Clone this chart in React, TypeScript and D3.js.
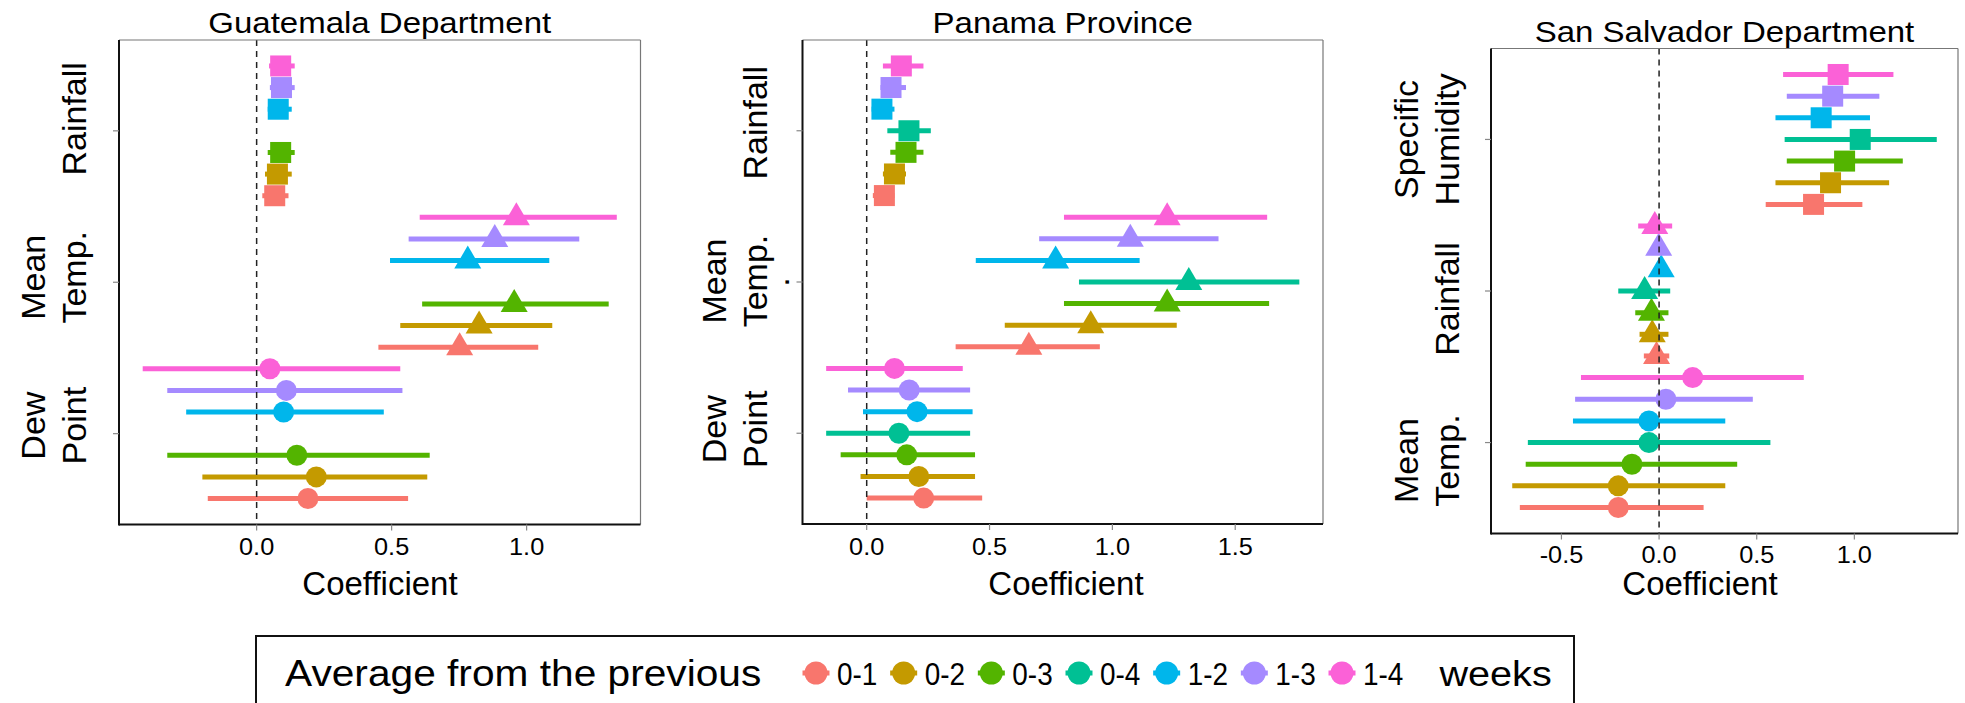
import * as d3 from "d3";

type Row = [number, number, number] | null; // [estimate, lower, upper]

// averaging windows (weeks) and their colours
const periods = ["0-1", "0-2", "0-3", "0-4", "1-2", "1-3", "1-4"];
const periodColors = ["#F8766D", "#C49A00", "#53B400", "#00C094", "#00B6EB", "#A58AFF", "#FB61D7"];

// Guatemala Department (0-4 not estimated)
const gtDewPoint: Row[] = [
  [0.19, -0.181, 0.561],
  [0.221, -0.201, 0.632],
  [0.149, -0.331, 0.641],
  null,
  [0.1, -0.261, 0.471],
  [0.11, -0.331, 0.54],
  [0.049, -0.422, 0.532],
];
const gtMeanTemp: Row[] = [
  [0.752, 0.451, 1.043],
  [0.824, 0.532, 1.095],
  [0.954, 0.613, 1.304],
  null,
  [0.782, 0.494, 1.084],
  [0.882, 0.563, 1.195],
  [0.962, 0.604, 1.334],
];
const gtRainfall: Row[] = [
  [0.067, 0.021, 0.118],
  [0.077, 0.031, 0.13],
  [0.089, 0.041, 0.141],
  null,
  [0.08, 0.041, 0.13],
  [0.092, 0.049, 0.141],
  [0.089, 0.046, 0.141],
];

// Panama Province
const pnDewPoint: Row[] = [
  [0.232, 0.0, 0.47],
  [0.212, -0.025, 0.441],
  [0.163, -0.106, 0.441],
  [0.131, -0.165, 0.421],
  [0.205, -0.015, 0.431],
  [0.173, -0.076, 0.421],
  [0.113, -0.165, 0.391],
];
const pnMeanTemp: Row[] = [
  [0.66, 0.362, 0.949],
  [0.912, 0.562, 1.262],
  [1.223, 0.803, 1.638],
  [1.311, 0.864, 1.761],
  [0.769, 0.444, 1.111],
  [1.073, 0.702, 1.432],
  [1.223, 0.803, 1.63],
];
const pnRainfall: Row[] = [
  [0.072, 0.025, 0.113],
  [0.113, 0.066, 0.16],
  [0.16, 0.096, 0.231],
  [0.172, 0.084, 0.261],
  [0.062, 0.02, 0.113],
  [0.099, 0.056, 0.16],
  [0.141, 0.066, 0.231],
];

// San Salvador Department
const ssMeanTemp: Row[] = [
  [-0.209, -0.713, 0.228],
  [-0.209, -0.752, 0.339],
  [-0.139, -0.683, 0.4],
  [-0.052, -0.672, 0.57],
  [-0.052, -0.441, 0.339],
  [0.035, -0.43, 0.48],
  [0.172, -0.4, 0.741],
];
const ssRainfall: Row[] = [
  [-0.013, -0.078, 0.052],
  [-0.035, -0.1, 0.048],
  [-0.039, -0.122, 0.048],
  [-0.074, -0.209, 0.057],
  [0.011, -0.024, 0.035],
  [-0.002, -0.035, 0.03],
  [-0.022, -0.107, 0.067],
];
const ssHumidity: Row[] = [
  [0.791, 0.546, 1.041],
  [0.878, 0.596, 1.178],
  [0.95, 0.654, 1.248],
  [1.03, 0.643, 1.422],
  [0.83, 0.596, 1.08],
  [0.889, 0.654, 1.128],
  [0.917, 0.635, 1.2],
];

// categories from bottom to top
const gtLabels = ["Dew\nPoint", "Mean\nTemp.", "Rainfall"];
const pnLabels = ["Dew\nPoint", "Mean\nTemp.", "Rainfall"];
const ssLabels = ["Mean\nTemp.", "Rainfall", "Specific\nHumidity"];
const shapes = ["circle", "triangle", "square"];

const gtTicks = [0, 0.5, 1.0];
const pnTicks = [0, 0.5, 1.0, 1.5];
const ssTicks = [-0.5, 0, 0.5, 1.0];

const FONT = "'Liberation Sans', Arial, Helvetica, sans-serif";
const fmt = (v: number) => d3.format(".1f")(v).replace("\u2212", "-");

interface PanelProps {
  title: string;
  series: Row[][];
  labels: string[];
  ticks: number[];
  x0: number;
  x1: number;
  y0: number;
  y1: number;
  titleY: number;
  tickY: number;
  xlabX: number;
  xlabY: number;
  ylabX: number;
  labelShift: number[];
}

const Marker = ({ shape, x, y, color }: { shape: string; x: number; y: number; color: string }) => {
  if (shape === "square") return <rect x={x - 10.5} y={y - 10.5} width={21} height={21} fill={color} />;
  if (shape === "triangle")
    return <polygon points={`${x - 13.5},${y + 8} ${x + 13.5},${y + 8} ${x},${y - 15}`} fill={color} />;
  return <circle cx={x} cy={y} r={10.5} fill={color} />;
};

const Panel = (p: PanelProps) => {
  const all = p.series.flat().filter((r): r is [number, number, number] => r !== null);
  const lo = d3.min(all, (r) => r[1]) as number;
  const hi = d3.max(all, (r) => r[2]) as number;
  const pad = (hi - lo) * 0.05;
  const x = d3.scaleLinear().domain([lo - pad, hi + pad]).range([p.x0, p.x1]);
  const y = d3.scaleLinear().domain([0.4, 3.6]).range([p.y1, p.y0]);
  const n = periods.length;
  const rowY = (cat: number, i: number) => y(cat + 1 + (i - (n - 1) / 2) / n);
  const cx = (p.x0 + p.x1) / 2;

  return (
    <g>
      <text
        transform={`translate(${cx},${p.titleY}) scale(1.1,1)`}
        textAnchor="middle"
        fontSize={30}
        fontFamily={FONT}
      >
        {p.title}
      </text>
      {/* error bars */}
      {p.series.map((rows, c) =>
        rows.map((r, i) =>
          r ? (
            <line
              key={`l${c}-${i}`}
              x1={x(r[1])}
              x2={x(r[2])}
              y1={rowY(c, i)}
              y2={rowY(c, i)}
              stroke={periodColors[i]}
              strokeWidth={5}
            />
          ) : null
        )
      )}
      {p.series.map((rows, c) =>
        rows.map((r, i) =>
          r ? <Marker key={`m${c}-${i}`} shape={shapes[c]} x={x(r[0])} y={rowY(c, i)} color={periodColors[i]} /> : null
        )
      )}
      <line x1={x(0)} x2={x(0)} y1={p.y0} y2={p.y1} stroke="#222" strokeWidth={1.5} strokeDasharray="6,5" />
      {/* frame */}
      <line x1={p.x0} x2={p.x1} y1={p.y0} y2={p.y0} stroke="#777" strokeWidth={1.2} />
      <line x1={p.x1} x2={p.x1} y1={p.y0} y2={p.y1} stroke="#777" strokeWidth={1.2} />
      <line x1={p.x0} x2={p.x0} y1={p.y0} y2={p.y1 + 1} stroke="#111" strokeWidth={2} />
      <line x1={p.x0} x2={p.x1} y1={p.y1} y2={p.y1} stroke="#111" strokeWidth={2} />
      {/* y ticks + labels */}
      {p.labels.map((lab, c) => {
        const ty = y(c + 1);
        const lines = lab.split("\n");
        return (
          <g key={`y${c}`}>
            <line x1={p.x0 - 6} x2={p.x0} y1={ty} y2={ty} stroke="#888" strokeWidth={1.2} />
            <text
              transform={`translate(${p.ylabX},${ty + p.labelShift[c]}) rotate(-90)`}
              textAnchor="middle"
              fontSize={34}
              fontFamily={FONT}
            >
              {lines.map((ln, k) => (
                <tspan key={k} x={0} y={-(lines.length - 1 - k) * 41}>
                  {ln}
                </tspan>
              ))}
            </text>
          </g>
        );
      })}
      {/* x ticks + labels */}
      {p.ticks.map((t) => (
        <g key={`x${t}`}>
          <line x1={x(t)} x2={x(t)} y1={p.y1} y2={p.y1 + 6} stroke="#888" strokeWidth={1.2} />
          <text
            transform={`translate(${x(t)},${p.tickY}) scale(1.1,1)`}
            textAnchor="middle"
            fontSize={23}
            fontFamily={FONT}
          >
            {fmt(t)}
          </text>
        </g>
      ))}
      <text x={p.xlabX} y={p.xlabY} textAnchor="middle" fontSize={33} fontFamily={FONT}>
        Coefficient
      </text>
    </g>
  );
};

const Legend = () => {
  const kx = d3.scaleLinear().domain([0, periods.length - 1]).range([816, 1342]);
  const ky = 673;
  return (
    <g>
      <rect x={256} y={636} width={1318} height={100} fill="none" stroke="#111" strokeWidth={2} />
      <text transform="translate(285,686) scale(1.13,1)" fontSize={36} fontFamily={FONT}>
        Average from the previous
      </text>
      {periods.map((pd, i) => (
        <g key={pd}>
          <line x1={kx(i) - 13.5} x2={kx(i) + 13.5} y1={ky} y2={ky} stroke={periodColors[i]} strokeWidth={5} />
          <circle cx={kx(i)} cy={ky} r={11.5} fill={periodColors[i]} />
          <text transform={`translate(${kx(i) + 21},685) scale(0.9,1)`} fontSize={31} fontFamily={FONT}>
            {pd}
          </text>
        </g>
      ))}
      <text transform="translate(1439.5,686) scale(1.1,1)" fontSize={36} fontFamily={FONT}>
        weeks
      </text>
    </g>
  );
};

export default function App() {
  return (
    <svg
      width={1965}
      height={703}
      style={{ position: "absolute", left: 0, top: 0, background: "#fff", display: "block" }}
    >
      <rect width={1965} height={703} fill="#fff" />
      <Panel
        title="Guatemala Department"
        series={[gtDewPoint, gtMeanTemp, gtRainfall]}
        labels={gtLabels}
        ticks={gtTicks}
        x0={119}
        x1={640.5}
        y0={40}
        y1={524.5}
        titleY={33}
        tickY={555}
        xlabX={380}
        xlabY={595}
        ylabX={86}
        labelShift={[-8, -5, -12]}
      />
      <Panel
        title="Panama Province"
        series={[pnDewPoint, pnMeanTemp, pnRainfall]}
        labels={pnLabels}
        ticks={pnTicks}
        x0={802.5}
        x1={1323}
        y0={40}
        y1={524}
        titleY={33}
        tickY={555}
        xlabX={1066}
        xlabY={595}
        ylabX={767}
        labelShift={[-4, -1, -8]}
      />
      {/* stray period beside the Panama "Mean Temp." label */}
      <text transform="translate(789,282) rotate(-90)" textAnchor="middle" fontSize={34} fontFamily={FONT}>
        .
      </text>
      <Panel
        title="San Salvador Department"
        series={[ssMeanTemp, ssRainfall, ssHumidity]}
        labels={ssLabels}
        ticks={ssTicks}
        x0={1491}
        x1={1958}
        y0={48.5}
        y1={533.5}
        titleY={41.5}
        tickY={563}
        xlabX={1700}
        xlabY={595}
        ylabX={1459}
        labelShift={[18, 8, 0]}
      />
      <Legend />
    </svg>
  );
}
